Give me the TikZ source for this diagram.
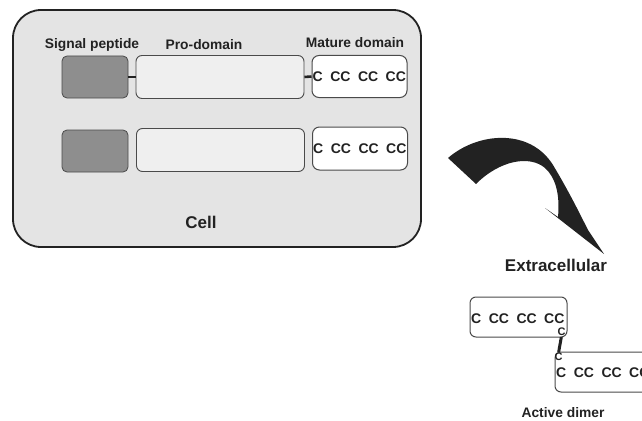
\documentclass[tikz,border=0pt]{standalone}
\usepackage{fontspec}
\setmainfont{Liberation Sans}
\definecolor{cellfill}{HTML}{E4E4E4}
\definecolor{sigfill}{HTML}{8E8E8E}
\definecolor{profill}{HTML}{EFEFEF}
\definecolor{edge}{HTML}{4A4A4A}
\definecolor{ink}{HTML}{222222}
\newcommand\cysrow{C\hspace{7.5pt}CC\hspace{7.5pt}CC\hspace{7.5pt}CC}
\begin{document}
\begin{tikzpicture}[x=1pt,y=-1pt,
  lbl/.style={font=\bfseries\fontsize{13.8}{16}\selectfont, text=ink, inner sep=0pt},
  biglbl/.style={font=\bfseries\fontsize{17}{20}\selectfont, text=ink, inner sep=0pt},
  cys/.style={font=\bfseries\fontsize{14}{16}\selectfont, text=ink, inner sep=0pt, anchor=west},
  cyssmall/.style={font=\bfseries\fontsize{11}{12}\selectfont, text=ink, inner sep=0pt},
  cellbox/.style={draw=ink, fill=cellfill, line width=1.8pt, rounded corners=28pt},
  sigbox/.style={draw=edge, fill=sigfill, line width=0.8pt, rounded corners=5pt, minimum width=66pt, minimum height=42pt, inner sep=0pt},
  probox/.style={draw=edge, fill=profill, line width=0.9pt, rounded corners=6pt, minimum width=168pt, minimum height=43pt, inner sep=0pt},
  matbox/.style={draw=edge, fill=white, line width=1pt, rounded corners=7pt, minimum width=95pt, minimum height=42pt, inner sep=0pt},
  link/.style={draw=ink, line width=1.6pt},
  bond/.style={draw=ink, line width=2.6pt},
]
\useasboundingbox (0,0) rectangle (642,420);

% the cell
\node[cellbox, minimum width=408pt, minimum height=237pt, inner sep=0pt] (cell) at (217,128.5) {};

% column headings
\node[lbl] (hsig) at (92,45) {Signal peptide};
\node[lbl] (hpro) at (204,45) {Pro-domain};
\node[lbl] (hmat) at (355,43) {Mature domain};

% first precursor
\node[sigbox] (sp1) at (95,77) {};
\node[probox] (pd1) at (220,77) {};
\node[matbox] (md1) at (359.5,76.5) {};
\node[cys] (c1) at ([xshift=1pt]md1.west) {\cysrow};
\draw[link] (sp1.east) -- (pd1.west);
\draw[bond] (pd1.east) -- (md1.west);

% second precursor
\node[sigbox] (sp2) at (95,151) {};
\node[probox] (pd2) at (220.5,150) {};
\node[matbox, minimum height=43pt] (md2) at (360,148.5) {};
\node[cys] (c2) at ([xshift=1pt]md2.west) {\cysrow};

\node[biglbl] (lcell) at (201,222) {Cell};

% secretion arrow
\fill[ink] (448,158) .. controls (478,132) and (530,128) .. (553,165)
  .. controls (568,190) and (578,210) .. (588,230) -- (604,254) -- (545,208) -- (558,217)
  .. controls (560,195) and (556,178) .. (545,168)
  .. controls (530,155) and (500,160) .. (476,184) -- cycle;

\node[biglbl] (lext) at (556,265) {Extracellular};

% disulfide-linked dimer
\begin{scope}
\clip (0,0) rectangle (642,420);
\node[matbox, minimum width=97pt, minimum height=40pt, rounded corners=6pt] (d1) at (518.5,317) {};
\node[cys] (dc1) at ([xshift=1.5pt,yshift=-2pt]d1.west) {\cysrow};
\node[matbox, minimum width=125pt, minimum height=40pt, rounded corners=6pt] (d2) at (617.5,372) {};
\node[cys] (dc2) at ([xshift=1.5pt,yshift=-1pt]d2.west) {\cysrow};
\end{scope}
\node[cyssmall] (ca) at (561.5,332) {C};
\node[cyssmall] (cb) at (558.5,357) {C};
\draw[bond, line width=3pt, shorten <=1pt, shorten >=1pt] (ca.south) -- (cb.north);

\node[lbl] (ldim) at (563,413) {Active dimer};
\end{tikzpicture}
\end{document}
